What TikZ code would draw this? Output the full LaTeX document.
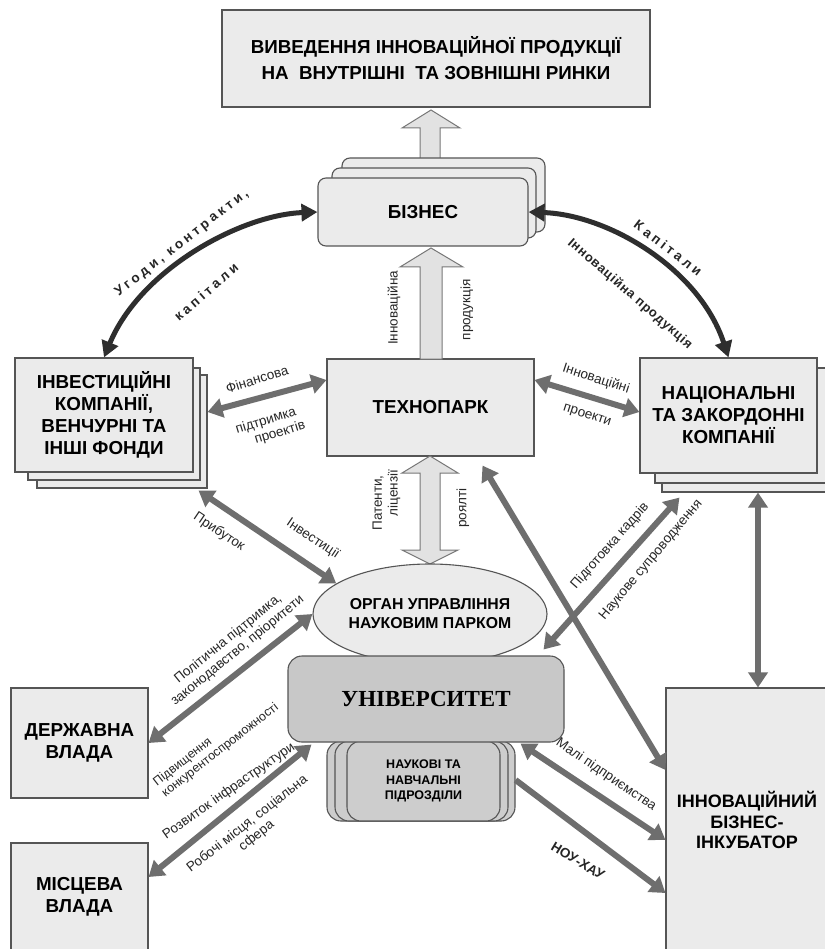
\documentclass[tikz,border=0pt]{standalone}
\usepackage{fontspec}
\setmainfont{Liberation Sans}
\newfontfamily\serifb{Liberation Serif}
\newfontfamily\spacedf[LetterSpace=24]{Liberation Sans}
\newfontfamily\spacedg[LetterSpace=6]{Liberation Sans}
\usetikzlibrary{arrows.meta,shapes.geometric,calc}
\definecolor{boxfill}{HTML}{EBEBEB}
\definecolor{boxline}{HTML}{555555}
\definecolor{unifill}{HTML}{C8C8C8}
\definecolor{scifill}{HTML}{CDCDCD}
\definecolor{arrgray}{HTML}{6E6E6E}
\definecolor{arrdark}{HTML}{2E2E2E}
\definecolor{hollowfill}{HTML}{E2E2E2}
\tikzset{
  gt/.tip={Triangle[length=15pt,width=19pt]},
  dt/.tip={Triangle[length=16pt,width=17pt]},
  box/.style={draw=boxline, fill=boxfill, line width=1.1pt, inner sep=0pt,
    font=\fontsize{18.8}{22}\selectfont\bfseries, align=center},
  rbox/.style={box, rounded corners=8pt},
  garrow/.style={draw=arrgray, line width=6pt},
  darrow/.style={draw=arrdark, line width=5pt},
  hollow/.style={draw=boxline!80, fill=hollowfill, line width=1pt},
  lab/.style={font=\fontsize{13.5}{15}\selectfont, inner sep=0pt, text=black!85},
  clab/.style={font=\spacedf\fontsize{13.5}{15}\selectfont\bfseries, inner sep=0pt, text=black!85},
}
\begin{document}
\begin{tikzpicture}[x=1pt,y=-1pt]
\useasboundingbox (0,0) rectangle (824,949);
\fill[white] (0,0) rectangle (824,949);

% block arrow business -> market
\draw[hollow] (420,172) -- (420,128) -- (402,128) -- (431,110) -- (460,128) -- (440,128) -- (440,172) -- cycle;

\node[box, minimum width=428pt, minimum height=97pt, font=\fontsize{18.8}{26}\selectfont\bfseries] (top) at (436,58.5)
  {ВИВЕДЕННЯ ІННОВАЦІЙНОЇ ПРОДУКЦІЇ\\НА~~ВНУТРІШНІ~~ТА ЗОВНІШНІ РИНКИ};

% business stack
\node[rbox, minimum width=203pt, minimum height=74pt] (bizB) at (443.5,195) {};
\node[rbox, minimum width=204pt, minimum height=70pt] (bizA) at (434,203) {};
\node[rbox, minimum width=210pt, minimum height=68pt] (biz) at (423,212) {БІЗНЕС};

% technopark
\node[box, minimum width=207pt, minimum height=97pt] (tech) at (430.5,407.5) {ТЕХНОПАРК};

% block arrow tech -> business
\draw[hollow] (420,359) -- (420,267) -- (400,267) -- (431,248) -- (463,267) -- (442,267) -- (442,359) -- cycle;
\node[lab, rotate=90] (lInn) at (394,308) {Інноваційна};
\node[lab, rotate=90] (lProd) at (467,310) {продукція};

% investment stack
\node[box, minimum width=170pt, minimum height=113pt] (invB) at (122,431.5) {};
\node[box, minimum width=172pt, minimum height=112pt] (invA) at (114,424) {};
\node[box, minimum width=178pt, minimum height=114pt] (inv) at (104,415)
  {ІНВЕСТИЦІЙНІ\\КОМПАНІЇ,\\ВЕНЧУРНІ ТА\\ІНШІ ФОНДИ};

% national companies stack
\node[box, minimum width=178pt, minimum height=116pt] (natB) at (751,434) {};
\node[box, minimum width=175pt, minimum height=115pt] (natA) at (742.5,425.5) {};
\node[box, minimum width=177pt, minimum height=115pt] (nat) at (728.5,415.5)
  {НАЦІОНАЛЬНІ\\ТА ЗАКОРДОННІ\\КОМПАНІЇ};

% block arrow tech <-> organ
\draw[hollow] (420,473) -- (402,473) -- (430,456) -- (458,473) -- (440,473) -- (440,550)
  -- (458,550) -- (430,564) -- (402,550) -- (420,550) -- cycle;
\node[lab, rotate=90] (lPat) at (378,503) {Патенти,};
\node[lab, rotate=90] (lLic) at (394,493) {ліцензії};
\node[lab, rotate=90] (lRoy) at (463,508) {роялті};

% organ ellipse
\node[ellipse, draw=boxline, fill=boxfill, line width=1.1pt, inner sep=0pt,
  minimum width=234pt, minimum height=100pt, align=center,
  font=\fontsize{15.8}{19}\selectfont\bfseries] (org) at (430,614)
  {ОРГАН УПРАВЛІННЯ\\НАУКОВИМ ПАРКОМ};

% science units stack
\node[draw=boxline, fill=scifill, line width=1.1pt, rounded corners=14pt,
  minimum width=188pt, minimum height=80pt] (sciB) at (421,781) {};
\node[draw=boxline, fill=scifill, line width=1.1pt, rounded corners=14pt,
  minimum width=173pt, minimum height=80pt] (sciA) at (421.5,781) {};
\node[draw=boxline, fill=scifill, line width=1.1pt, rounded corners=14pt,
  minimum width=153pt, minimum height=80pt, align=center,
  font=\fontsize{12.5}{15.5}\selectfont\bfseries] (sci) at (423.5,781)
  {НАУКОВІ ТА\\НАВЧАЛЬНІ\\ПІДРОЗДІЛИ};

% university
\node[draw=boxline, fill=unifill, line width=1.1pt, rounded corners=14pt,
  minimum width=276pt, minimum height=86pt,
  font=\serifb\fontsize{23}{26}\selectfont\bfseries] (uni) at (426,699) {УНІВЕРСИТЕТ};

% government boxes
\node[box, minimum width=137pt, minimum height=110pt] (gov) at (79.5,743) {ДЕРЖАВНА\\ВЛАДА};
\node[box, minimum width=137pt, minimum height=117pt] (loc) at (79.5,901.5) {};
\node[font=\fontsize{18.8}{22}\selectfont\bfseries, align=center] (locT) at (79.5,897) {МІСЦЕВА\\ВЛАДА};
\node[box, minimum width=174pt, minimum height=272pt] (inc) at (753,824) {};
\node[font=\fontsize{18}{20.5}\selectfont\bfseries, align=center, inner sep=0pt] (incT) at (747,820)
  {ІННОВАЦІЙНИЙ\\БІЗНЕС-\\ІНКУБАТОР};

% curved dark arrows
\draw[darrow, dt-dt] (biz.west) .. controls (240,215) and (140,270) .. (inv.north);
\draw[darrow, dt-dt] (biz.east) .. controls (610,215) and (700,270) .. (nat.north);
\node[clab, rotate=38] (lUg) at (182,243) {Угоди, контракти,};
\node[clab, rotate=41] (lKap1) at (206,292) {капітали};
\node[clab, rotate=-37.6] (lKap2) at (668,248) {Капітали};
\node[font=\spacedg\fontsize{13}{15}\selectfont\bfseries, inner sep=0pt, text=black!85, rotate=-41] (lIP) at (630,294) {Інноваційна продукція};

% gray arrows
\draw[garrow, gt-gt] (invB.east |- 0,412) -- (tech.west |- 0,380);
\node[lab, rotate=17] (lFin) at (257,379) {Фінансова};
\node[lab, rotate=17] (lPid) at (266,421) {підтримка};
\node[lab, rotate=17] (lPro) at (280,433) {проектів};

\draw[garrow, gt-gt] (tech.east |- 0,380) -- (nat.west |- 0,412);
\node[lab, rotate=-18] (lInP) at (596,379) {Інноваційні};
\node[lab, rotate=-18] (lProj) at (587,416) {проекти};

\draw[garrow, gt-gt] ($(invB.south east)+(-9,2)$) -- (org.162);
\node[lab, rotate=-34] (lPryb) at (219,532) {Прибуток};
\node[lab, rotate=-34] (lInv) at (313,539) {Інвестиції};

\draw[garrow, gt-gt] (org.west) -- (gov.east);
\node[lab, rotate=39, align=center] (lPol) at (233,645) {Політична підтримка,\\законодавство, пріоритети};
\node[lab, rotate=38, align=left, font=\fontsize{12.5}{14}\selectfont] (lKonk) at (216,745) {Підвищення\\конкурентоспроможності};

\draw[garrow, gt-gt] ($(uni.south west)+(24,2)$) -- (loc.east |- 0,877);
\node[lab, rotate=35] (lRoz) at (229,791) {Розвиток інфраструктури};
\node[lab, rotate=38, align=center] (lRob) at (252,830) {Робочі місця, соціальна\\сфера};

\draw[garrow, gt-gt] ($(natB.south west)+(18,5)$) -- ($(uni.north east)+(-21,-6)$);
\node[lab, rotate=48.5] (lPidg) at (610,546) {Підготовка кадрів};
\node[lab, rotate=50] (lNauk) at (651,560) {Наукове супроводження};

\draw[garrow, gt-gt] ($(tech.south)+(52,9)$) -- (inc.west |- 0,770);
\draw[garrow, gt-gt] (natB.south -| 758,0) -- (inc.north -| 758,0);

\draw[garrow, gt-gt] ($(uni.south east)+(-44,1)$) -- (inc.west |- 0,840);
\node[lab, rotate=-34] (lMal) at (606,775) {Малі підприємства};

\draw[garrow, -gt] (sciB.east |- 0,780) -- (inc.west |- 0,893);
\node[lab, rotate=-31, font=\fontsize{13.5}{15}\selectfont\bfseries] (lNou) at (578,861) {НОУ-ХАУ};
\end{tikzpicture}
\end{document}
